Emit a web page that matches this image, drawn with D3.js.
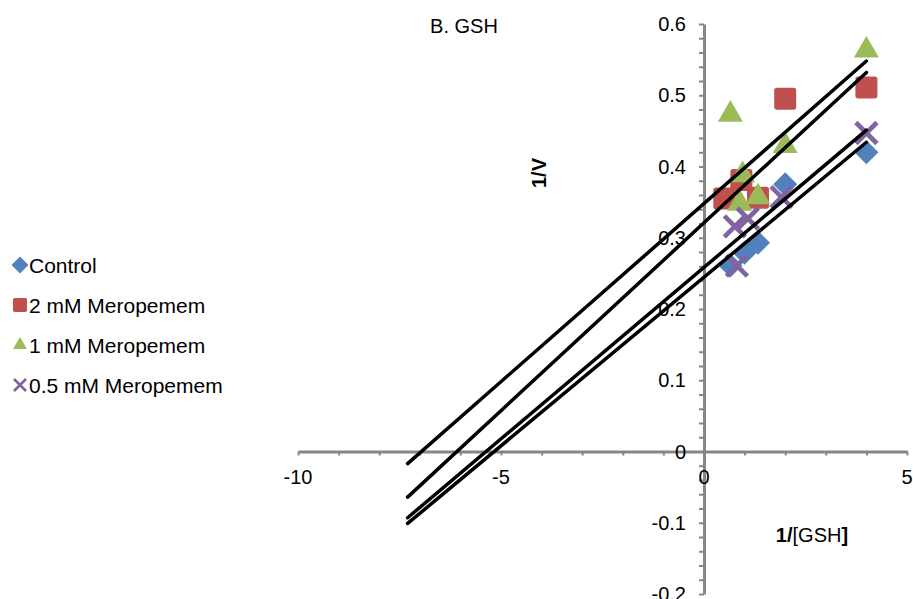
<!DOCTYPE html>
<html>
<head>
<meta charset="utf-8">
<script src="https://cdn.jsdelivr.net/npm/d3@7"></script>
<style>
  body { margin: 0; background: #fff; }
  text { font-family: "Liberation Sans", Arial, sans-serif; }
</style>
</head>
<body>
<script>
const seriesNames = ['Control', '2 mM Meropemem', '1 mM Meropemem', '0.5 mM Meropemem'];

const controlX = [0.65, 1.0, 1.33, 2, 4];
const controlY = [0.261, 0.279, 0.293, 0.375, 0.42];
const mm2X = [0.5, 0.92, 1.33, 2, 4];
const mm2Y = [0.355, 0.381, 0.356, 0.495, 0.511];
const mm1X = [0.65, 0.95, 0.88, 1.33, 2, 4];
const mm1Y = [0.473, 0.388, 0.348, 0.357, 0.429, 0.563];
const mm05X = [0.81, 0.76, 1.08, 1.91, 4];
const mm05Y = [0.261, 0.316, 0.327, 0.357, 0.447];

// trendline ends, read at x = -7.3 and x = 4
const lineX = [-7.3, 4];
const controlLine = [-0.101, 0.434];
const mm2Line = [-0.064, 0.532];
const mm1Line = [-0.017, 0.548];
const mm05Line = [-0.093, 0.451];

const xTickLabels = [-10, -5, 0, 5];
const yTickLabels = [-0.2, -0.1, 0, 0.1, 0.2, 0.3, 0.4, 0.5, 0.6];

window.onload = function() {
    const width = 913;
    const height = 599;
    const colours = ['#4F81BD', '#C0504D', '#9BBB59', '#8064A2'];
    const shapes = ['diamond', 'square', 'triangle', 'cross'];
    const markerSizes = [24, 22, 25, 21];

    const series = [
        {xs: controlX, ys: controlY, line: controlLine},
        {xs: mm2X, ys: mm2Y, line: mm2Line},
        {xs: mm1X, ys: mm1Y, line: mm1Line},
        {xs: mm05X, ys: mm05Y, line: mm05Line},
    ];

    const xScale = d3.scaleLinear().domain([-10, 5]).range([298, 907]);
    const yScale = d3.scaleLinear().domain([-0.2, 0.6]).range([594, 24]);

    const svg = d3.select('body')
                  .append('svg')
                    .attr('width', width)
                    .attr('height', height);

    const axisColour = '#868686';

    // x-axis, minor ticks every 1
    const xAxis = svg.append('g')
        .attr('transform', `translate(0, ${yScale(0)})`)
        .call(d3.axisBottom(xScale).tickValues(d3.range(-10, 5.5, 1)).tickSize(4).tickSizeOuter(0).tickFormat(''));
    xAxis.select('.domain').attr('stroke', axisColour).attr('stroke-width', 3);
    xAxis.selectAll('.tick line').attr('stroke', axisColour).attr('stroke-width', 2);

    // y-axis, minor ticks every 0.02
    const yAxis = svg.append('g')
        .attr('transform', `translate(${xScale(0)}, 0)`)
        .call(d3.axisLeft(yScale).tickValues(d3.range(-0.2, 0.6001, 0.02)).tickSize(5).tickSizeOuter(0).tickFormat(''));
    yAxis.select('.domain').attr('stroke', axisColour).attr('stroke-width', 3);
    yAxis.selectAll('.tick line').attr('stroke', axisColour).attr('stroke-width', 2);

    // tick labels
    svg.append('g').selectAll('text')
       .data(xTickLabels)
       .enter().append('text')
         .attr('x', (d) => xScale(d))
         .attr('y', yScale(0) + 32)
         .attr('text-anchor', 'middle')
         .attr('font-size', 20)
         .text((d) => d);

    svg.append('g').selectAll('text')
       .data(yTickLabels)
       .enter().append('text')
         .attr('x', xScale(0) - 18)
         .attr('y', (d) => yScale(d))
         .attr('dy', '0.35em')
         .attr('text-anchor', 'end')
         .attr('font-size', 20)
         .text((d) => d);

    // titles
    svg.append('text')
       .attr('x', 464).attr('y', 33)
       .attr('text-anchor', 'middle')
       .attr('font-size', 20)
       .text('B. GSH');

    svg.append('text')
       .attr('transform', 'translate(546, 173) rotate(-90)')
       .attr('text-anchor', 'middle')
       .attr('font-size', 20)
       .attr('font-weight', 'bold')
       .text('1/V');

    const xTitle = svg.append('text')
       .attr('x', 812).attr('y', 542)
       .attr('text-anchor', 'middle')
       .attr('font-size', 20);
    xTitle.append('tspan').attr('font-weight', 'bold').text('1/');
    xTitle.append('tspan').text('[GSH');
    xTitle.append('tspan').attr('font-weight', 'bold').text(']');

    function drawMarker(g, shape, colour, size) {
        if (shape === 'cross') {
            const h = size / 2;
            g.append('path')
             .attr('d', `M${-h},${-h}L${h},${h}M${-h},${h}L${h},${-h}`)
             .attr('stroke', colour)
             .attr('stroke-width', size / 4.5)
             .attr('fill', 'none');
        } else if (shape === 'diamond') {
            g.append('path')
             .attr('d', d3.symbol(d3.symbolSquare, size * size / 2)())
             .attr('transform', 'rotate(45)')
             .attr('fill', colour);
        } else if (shape === 'square') {
            g.append('rect')
             .attr('x', -size / 2).attr('y', -size / 2)
             .attr('width', size).attr('height', size)
             .attr('rx', size / 8)
             .attr('fill', colour);
        } else {
            g.append('path')
             .attr('d', d3.symbol(d3.symbolTriangle, size * size * 0.433)())
             .attr('fill', colour);
        }
    }

    // markers
    series.forEach((s, i) => {
        const pts = s.xs.map((x, j) => [x, s.ys[j]]);
        svg.append('g').selectAll('g')
           .data(pts)
           .enter().append('g')
             .attr('transform', (d) => `translate(${xScale(d[0])}, ${yScale(d[1])})`)
             .each(function() { drawMarker(d3.select(this), shapes[i], colours[i], markerSizes[i]); });
    });

    // trendlines
    const line = d3.line().x((d) => xScale(d[0])).y((d) => yScale(d[1]));
    series.forEach((s) => {
        svg.append('path')
           .datum(lineX.map((x, j) => [x, s.line[j]]))
           .attr('d', line)
           .attr('stroke', '#000')
           .attr('stroke-width', 3.5)
           .attr('stroke-linecap', 'round')
           .attr('fill', 'none');
    });

    // legend
    const legend = svg.append('g');
    seriesNames.forEach((name, i) => {
        const row = legend.append('g').attr('transform', `translate(20, ${265 + i * 40})`);
        drawMarker(row, shapes[i], colours[i], i === 0 ? 17 : (i === 3 ? 12 : 14));
        row.append('text')
           .attr('x', 9).attr('y', 1)
           .attr('dy', '0.35em')
           .attr('font-size', 21)
           .text(name);
    });
};
</script>
</body>
</html>
